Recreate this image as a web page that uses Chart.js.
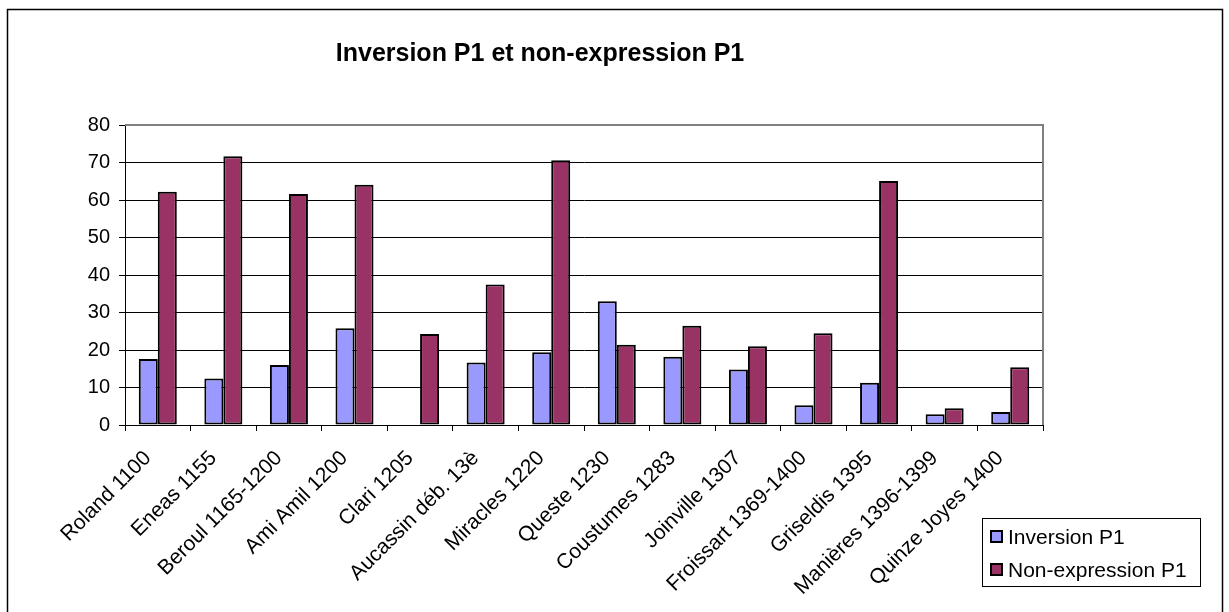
<!DOCTYPE html>
<html>
<head>
<meta charset="utf-8">
<title>Inversion P1 et non-expression P1</title>
<script src="https://cdn.jsdelivr.net/npm/chart.js@4/dist/chart.umd.min.js"></script>
<style>
    html, body { margin: 0; padding: 0; background: #fff; }
    canvas { display: block; }
</style>
</head>
<body>
<canvas id="p1Chart" width="1229" height="612"></canvas>
<script>
const categories = [
    'Roland 1100', 'Eneas 1155', 'Beroul 1165-1200', 'Ami Amil 1200', 'Clari 1205',
    'Aucassin déb. 13è', 'Miracles 1220', 'Queste 1230', 'Coustumes 1283', 'Joinville 1307',
    'Froissart 1369-1400', 'Griseldis 1395', 'Manières 1396-1399', 'Quinze Joyes 1400'
];
const inversionP1 = [17.6, 12.4, 16.0, 25.8, 0, 16.7, 19.4, 33.0, 18.2, 14.8, 5.3, 11.3, 2.9, 3.5];
const nonExpressionP1 = [62.2, 71.7, 61.6, 64.1, 24.3, 37.5, 70.6, 21.4, 26.5, 21.0, 24.5, 65.1, 4.5, 15.4];
const seriesNames = ['Inversion P1', 'Non-expression P1'];
const seriesColors = ['#9999ff', '#993366'];
const chartTitle = 'Inversion P1 et non-expression P1';

const FONT = '"Liberation Sans", Arial, sans-serif';

// frame, title and legend drawn in the Excel style
const excelFrame = {
    id: 'excelFrame',
    beforeDraw(chart) {
        const ctx = chart.ctx;
        ctx.save();
        ctx.fillStyle = '#fff';
        ctx.fillRect(0, 0, chart.width, chart.height);
        ctx.restore();
    },
    afterDraw(chart) {
        const ctx = chart.ctx;
        const area = chart.chartArea;
        ctx.save();

        // plot area border top / right
        ctx.strokeStyle = '#808080';
        ctx.lineWidth = 2;
        ctx.beginPath();
        ctx.moveTo(area.left, area.top);
        ctx.lineTo(area.right, area.top);
        ctx.lineTo(area.right, area.bottom);
        ctx.stroke();

        // outer border
        ctx.strokeStyle = '#000';
        ctx.lineWidth = 1.5;
        ctx.strokeRect(7.5, 9.5, 1215, 700);

        // title
        ctx.fillStyle = '#000';
        ctx.font = 'bold 25px ' + FONT;
        ctx.textAlign = 'center';
        ctx.textBaseline = 'middle';
        ctx.fillText(chartTitle, 540, 54);

        // legend
        ctx.lineWidth = 1;
        ctx.strokeStyle = '#000';
        ctx.fillStyle = '#fff';
        ctx.fillRect(982.5, 518.5, 218, 68);
        ctx.strokeRect(982.5, 518.5, 218, 68);
        ctx.font = '21px ' + FONT;
        ctx.textAlign = 'left';
        chart.data.datasets.forEach(function(ds, i) {
            const y = 537 + i * 33;
            ctx.fillStyle = ds.backgroundColor;
            ctx.fillRect(991, y - 6, 11, 11);
            ctx.lineWidth = 2;
            ctx.strokeStyle = '#000';
            ctx.strokeRect(991, y - 6, 11, 11);
            ctx.fillStyle = '#000';
            ctx.fillText(ds.label, 1008, y + 1);
        });

        ctx.restore();
    }
};

const ctx = document.getElementById('p1Chart').getContext('2d');
new Chart(ctx, {
    type: 'bar',
    data: {
        labels: categories,
        datasets: [{
            label: seriesNames[0],
            data: inversionP1,
            backgroundColor: seriesColors[0],
            borderColor: '#000',
            borderWidth: 2,
            borderSkipped: false
        }, {
            label: seriesNames[1],
            data: nonExpressionP1,
            backgroundColor: seriesColors[1],
            borderColor: '#000',
            borderWidth: 2,
            borderSkipped: false
        }]
    },
    options: {
        responsive: false,
        animation: false,
        events: [],
        layout: {
            padding: { top: 125, right: 186, left: 0, bottom: 0 }
        },
        datasets: {
            bar: {
                categoryPercentage: 0.58,
                barPercentage: 1
            }
        },
        plugins: {
            legend: { display: false },
            title: { display: false },
            tooltip: { enabled: false }
        },
        scales: {
            x: {
                afterFit: function(scale) { scale.height = 187; },
                grid: {
                    offset: true,
                    drawOnChartArea: false,
                    drawTicks: true,
                    tickLength: 6,
                    color: '#000'
                },
                border: { color: '#000', width: 1 },
                ticks: {
                    color: '#000',
                    font: { family: FONT, size: 21 },
                    maxRotation: 45,
                    minRotation: 45,
                    autoSkip: false,
                    padding: 15,
                    labelOffset: -10
                }
            },
            y: {
                min: 0,
                max: 80,
                afterFit: function(scale) { scale.width = 125; },
                grid: {
                    color: '#000',
                    lineWidth: 1,
                    drawTicks: true,
                    tickLength: 6
                },
                border: { color: '#000', width: 1 },
                ticks: {
                    stepSize: 10,
                    color: '#000',
                    font: { family: FONT, size: 20 },
                    padding: 9
                }
            }
        }
    },
    plugins: [excelFrame]
});
</script>
</body>
</html>
